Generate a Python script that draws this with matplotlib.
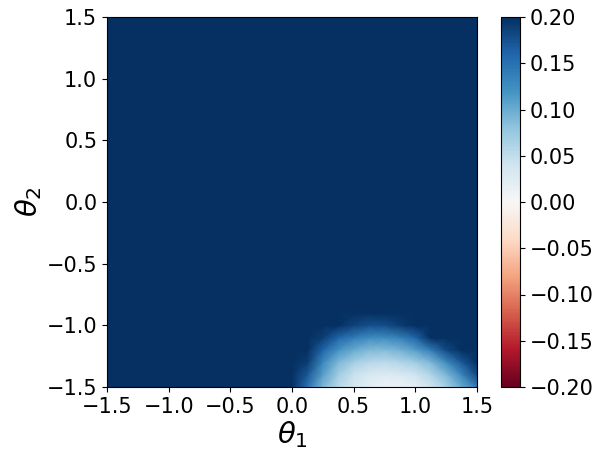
import numpy as np
import matplotlib
matplotlib.use("Agg")
import matplotlib.pyplot as plt

# Grid nodes covering the region where the field is below the colour limit
theta1 = [0.0, 0.125, 0.25, 0.375, 0.5, 0.625, 0.75, 0.875, 1.0, 1.125, 1.25, 1.375, 1.5]
theta2 = [-1.5, -1.4, -1.3, -1.2, -1.1, -1.0, -0.9]

row_m150 = [0.25, 0.15, 0.09, 0.055, 0.035, 0.02, 0.012, 0.012, 0.02, 0.04, 0.065, 0.10, 0.14]
row_m140 = [0.30, 0.17, 0.11, 0.07, 0.045, 0.032, 0.027, 0.03, 0.04, 0.06, 0.09, 0.13, 0.18]
row_m130 = [0.35, 0.19, 0.13, 0.09, 0.068, 0.055, 0.052, 0.058, 0.07, 0.09, 0.125, 0.17, 0.22]
row_m120 = [0.40, 0.21, 0.16, 0.12, 0.10, 0.088, 0.087, 0.095, 0.11, 0.14, 0.18, 0.24, 0.30]
row_m110 = [0.45, 0.26, 0.19, 0.16, 0.14, 0.125, 0.125, 0.135, 0.16, 0.20, 0.25, 0.30, 0.35]
row_m100 = [0.50, 0.32, 0.24, 0.20, 0.185, 0.175, 0.178, 0.19, 0.21, 0.25, 0.30, 0.35, 0.40]
row_m090 = [0.55, 0.40, 0.32, 0.28, 0.26, 0.25, 0.25, 0.26, 0.28, 0.32, 0.36, 0.40, 0.45]

vmin, vmax = -0.2, 0.2
xticks = [-1.5, -1.0, -0.5, 0.0, 0.5, 1.0, 1.5]
yticks = [-1.5, -1.0, -0.5, 0.0, 0.5, 1.0, 1.5]
cticks = [-0.20, -0.15, -0.10, -0.05, 0.00, 0.05, 0.10, 0.15, 0.20]

Z = np.array([row_m150, row_m140, row_m130, row_m120, row_m110, row_m100, row_m090])
X, Y = np.meshgrid(theta1, theta2)

cmap = plt.get_cmap("RdBu")
fig = plt.figure(figsize=(6.03, 4.63), dpi=100)
ax = fig.add_axes([107/603, 1-387/463, 370/603, 370/463])
cax = fig.add_axes([501/603, 1-387/463, 19/603, 370/463])

ax.set_facecolor(cmap(1.0))
m = ax.pcolormesh(X, Y, Z, cmap=cmap, vmin=vmin, vmax=vmax, shading="gouraud")
ax.set_xlim(-1.5, 1.5)
ax.set_ylim(-1.5, 1.5)
ax.set_xticks(xticks)
ax.set_yticks(yticks)
ax.tick_params(labelsize=15)
ax.set_xlabel(r"$\theta_1$", fontsize=21, labelpad=2)
ax.set_ylabel(r"$\theta_2$", fontsize=21, labelpad=2)

cb = fig.colorbar(m, cax=cax, ticks=cticks)
cb.ax.tick_params(labelsize=15)
cb.ax.set_yticklabels([f"{t:.2f}".replace("-", "\u2212") for t in cticks])

fig.savefig("out.png", dpi=100)
